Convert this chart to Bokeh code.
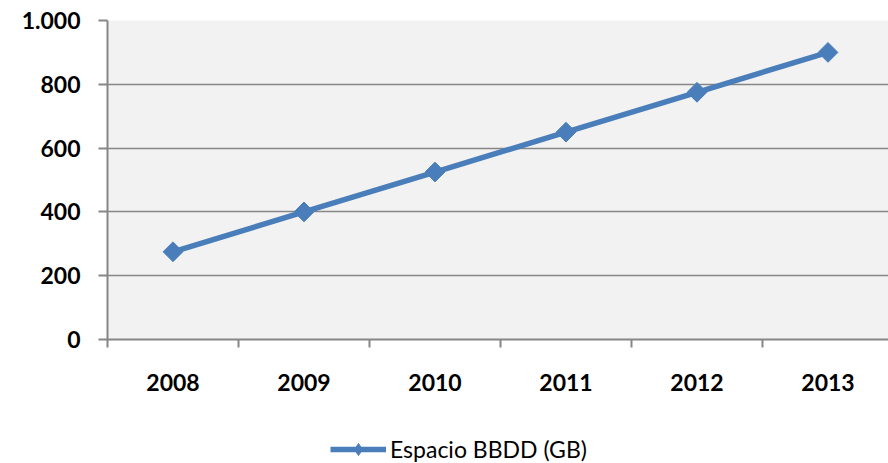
import math
from bokeh.plotting import figure
from bokeh.layouts import column
from bokeh.models import Range1d, FixedTicker, Legend, LegendItem
from bokeh.embed import file_html
from bokeh.resources import INLINE

years = ["2008", "2009", "2010", "2011", "2012", "2013"]
espacio = [275, 400, 525, 650, 775, 900]
y_ticks = [0, 200, 400, 600, 800, 1000]
y_labels = ["0", "200", "400", "600", "800", "1.000"]
series_name = "Espacio BBDD (GB)"

BLUE = "#4A7EBB"
GRAY = "#868686"
FONT = "Lato"

W = 888
H1, H2 = 400, 63
left, top = 107, 20
bottom = H1 - 339
cat_w = 131.0
n_visible = (W - left) / cat_w

p = figure(width=W, height=H1, output_backend="svg", toolbar_location=None,
           x_range=Range1d(0, n_visible), y_range=Range1d(0, 1000),
           min_border_left=left, min_border_right=0, min_border_top=top,
           min_border_bottom=bottom)
p.border_fill_color = "white"
p.outline_line_color = None
p.background_fill_color = "#F2F2F2"

xs = [i + 0.5 for i in range(len(years))]
p.line(xs, espacio, line_color=BLUE, line_width=5.5)
p.scatter(xs, espacio, marker="square", size=14, angle=math.pi / 4,
          fill_color=BLUE, line_color=BLUE)

# x axis
xa = p.xaxis[0]
xa.ticker = FixedTicker(ticks=xs, minor_ticks=list(range(len(years) + 1)))
xa.major_label_overrides = {x: y for x, y in zip(xs, years)}
xa.major_tick_out = 0
xa.major_tick_in = 0
xa.minor_tick_out = 8
xa.minor_tick_in = 0
xa.minor_tick_line_color = GRAY
xa.minor_tick_line_width = 2
xa.axis_line_color = GRAY
xa.axis_line_width = 2
xa.major_label_standoff = 26
xa.major_label_text_font = FONT
xa.major_label_text_font_style = "bold"
xa.major_label_text_font_size = "23px"
xa.major_label_text_color = "black"

# y axis
ya = p.yaxis[0]
ya.ticker = FixedTicker(ticks=y_ticks, minor_ticks=[])
ya.major_label_overrides = {t: l for t, l in zip(y_ticks, y_labels)}
ya.major_tick_out = 9
ya.major_tick_in = 0
ya.major_tick_line_color = GRAY
ya.major_tick_line_width = 2
ya.axis_line_color = GRAY
ya.axis_line_width = 2
ya.major_label_standoff = 18
ya.major_label_text_font = FONT
ya.major_label_text_font_style = "bold"
ya.major_label_text_font_size = "23px"
ya.major_label_text_color = "black"

p.xgrid.grid_line_color = None
p.ygrid.ticker = FixedTicker(ticks=y_ticks)
p.ygrid.grid_line_color = GRAY
p.ygrid.grid_line_width = 1.5

# legend strip (proxy renderers with no visible data)
q = figure(width=W, height=H2, output_backend="svg", toolbar_location=None,
           x_range=Range1d(0, 1), y_range=Range1d(0, 1),
           min_border=0, x_axis_type=None, y_axis_type=None)
q.outline_line_color = None
q.grid.grid_line_color = None
q.background_fill_color = "white"
nan = float("nan")
lr = q.line([nan, nan], [nan, nan], line_color=BLUE, line_width=5.5)
mr = q.scatter([nan], [nan], marker="diamond", size=15,
               fill_color=BLUE, line_color=BLUE)
legend = Legend(items=[LegendItem(label=series_name, renderers=[lr, mr])],
                location=(223, -1), orientation="horizontal",
                label_text_font=FONT, label_text_font_size="23px",
                label_text_color="black", glyph_width=56, glyph_height=30,
                label_standoff=4, background_fill_alpha=0, border_line_color=None,
                padding=0, margin=0)
q.add_layout(legend, "center")

layout = column(p, q, spacing=0)
open("out.html", "w").write(file_html(layout, INLINE))
